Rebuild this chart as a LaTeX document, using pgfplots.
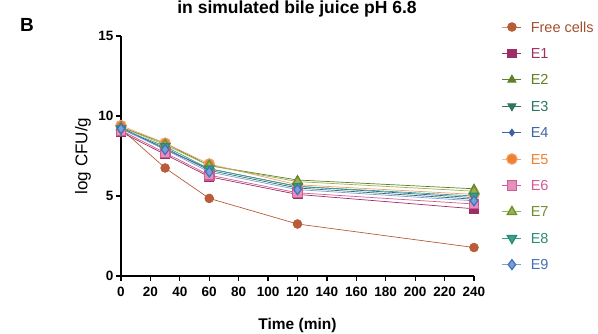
\documentclass[border=0pt]{standalone}
\usepackage{fontspec}
\setmainfont{Liberation Sans}
\usepackage{pgfplots}
\pgfplotsset{compat=1.18}
\definecolor{cFree}{HTML}{B85C3A}
\definecolor{tFree}{HTML}{A0502F}
\definecolor{cE1}{HTML}{9E2F64}
\definecolor{cE2}{HTML}{5E7F24}
\definecolor{cE3}{HTML}{2D7564}
\definecolor{cE4}{HTML}{3E62A6}
\definecolor{cE5}{HTML}{F07F2E}
\definecolor{lE5}{HTML}{EFA070}
\definecolor{cE6}{HTML}{D05A94}
\definecolor{fE6}{HTML}{E590B8}
\definecolor{cE7}{HTML}{6E8E2C}
\definecolor{fE7}{HTML}{9DB050}
\definecolor{cE8}{HTML}{2A8A74}
\definecolor{fE8}{HTML}{3FA088}
\definecolor{cE9}{HTML}{4470B8}
\definecolor{fE9}{HTML}{7A9ED8}
\begin{document}
\begin{tikzpicture}[x=1pt,y=1pt]
\begin{axis}[
  at={(121pt,58pt)}, anchor=south west,
  scale only axis, width=353pt, height=240pt,
  xmin=0, xmax=240, ymin=0, ymax=15,
  clip=false,
  axis lines*=left,
  axis line style={line width=1.3pt, -},
  xtick={0,20,...,240}, ytick={0,5,10,15},
  tick align=outside, major tick length=5pt,
  tick style={line width=1.3pt, black},
  /pgf/number format/assume math mode=true,
  ticklabel style={font=\fontsize{13.5}{15}\selectfont\bfseries},
  xticklabel style={yshift=-3pt},
  yticklabel style={xshift=1pt},
  xlabel={Time (min)},
  xlabel style={font=\fontsize{15.5}{17}\selectfont\bfseries, at={(axis description cs:0.5,0)}, anchor=base, yshift=-54pt},
  ylabel={log CFU/g},
  ylabel style={font=\fontsize{17}{19}\selectfont, at={(axis description cs:-0.1076,0.5)}, anchor=center},
  every axis plot/.append style={line width=0.7pt},
  legend style={at={(axis description cs:1.079,1.0925)}, anchor=north west, draw=none, fill=none,
    inner sep=0pt, row sep=0pt,
    /tikz/every odd column/.append style={column sep=9pt},
    nodes={inner sep=0pt, text height=18.2pt, text depth=8.2pt, font=\fontsize{14.5}{16}\selectfont, anchor=base west}},
  legend cell align=left,
  legend image code/.code={\draw[mark repeat=2,mark phase=2,yshift=5.2pt] plot coordinates {(0pt,0pt)(9.5pt,0pt)(19pt,0pt)};},
]
\addplot[color=cFree, mark=*, mark size=4.4pt, mark options={fill=cFree}] coordinates {(0,9.2)(30,6.75)(60,4.85)(120,3.25)(240,1.78)};
\addlegendentry{\textcolor{tFree}{Free cells}}
\addplot[color=cE1, mark=square*, mark size=4.4pt, mark options={fill=cE1}] coordinates {(0,9.0)(30,7.6)(60,6.2)(120,5.1)(240,4.2)};
\addlegendentry{\textcolor{cE1}{E1}}
\addplot[color=cE2, mark=triangle*, mark size=4.8pt, mark options={fill=cE2}] coordinates {(0,9.3)(30,8.3)(60,6.9)(120,6.0)(240,5.45)};
\addlegendentry{\textcolor{cE2}{E2}}
\addplot[color=cE3, mark=triangle*, mark size=4.8pt, mark options={fill=cE3, rotate=180}] coordinates {(0,9.2)(30,8.0)(60,6.6)(120,5.5)(240,4.8)};
\addlegendentry{\textcolor{cE3}{E3}}
\addplot[color=cE4, mark=diamond*, mark size=3.6pt, mark options={fill=cE4}] coordinates {(0,9.3)(30,7.9)(60,6.7)(120,5.6)(240,4.9)};
\addlegendentry{\textcolor{cE4}{E4}}
\addplot[color=lE5, mark=*, mark size=5.2pt, mark options={fill=cE5, draw=lE5, line width=1.2pt}] coordinates {(0,9.4)(30,8.3)(60,7.0)(120,5.7)(240,5.1)};
\addlegendentry{\textcolor{cE5}{E5}}
\addplot[color=cE6, mark=square*, mark size=4.8pt, mark options={fill=fE6, draw=cE6, line width=1.2pt}] coordinates {(0,9.1)(30,7.7)(60,6.3)(120,5.2)(240,4.5)};
\addlegendentry{\textcolor{cE6}{E6}}
\addplot[color=fE7, mark=triangle*, mark size=5.4pt, mark options={fill=fE7, draw=cE7, line width=1.2pt}] coordinates {(0,9.3)(30,8.2)(60,6.9)(120,5.9)(240,5.3)};
\addlegendentry{\textcolor{cE7}{E7}}
\addplot[color=fE8, mark=triangle*, mark size=5.4pt, mark options={fill=fE8, draw=cE8, line width=1.2pt, rotate=180}] coordinates {(0,9.2)(30,8.1)(60,6.7)(120,5.6)(240,5.0)};
\addlegendentry{\textcolor{cE8}{E8}}
\addplot[color=fE9, mark=diamond*, mark size=5pt, mark options={fill=fE9, draw=cE9, line width=1.2pt}] coordinates {(0,9.2)(30,7.9)(60,6.5)(120,5.4)(240,4.7)};
\addlegendentry{\textcolor{cE9}{E9}}
\end{axis}
\node[anchor=base, font=\fontsize{17.5}{20}\selectfont\bfseries] at (297pt,320.5pt) {in simulated bile juice pH 6.8};
\node[anchor=base west, inner sep=0pt, font=\fontsize{19}{21}\selectfont\bfseries] at (20pt,302pt) {B};
\pgfresetboundingbox
\path[use as bounding box] (0pt,0pt) rectangle (598pt,334pt);
\end{tikzpicture}
\end{document}
